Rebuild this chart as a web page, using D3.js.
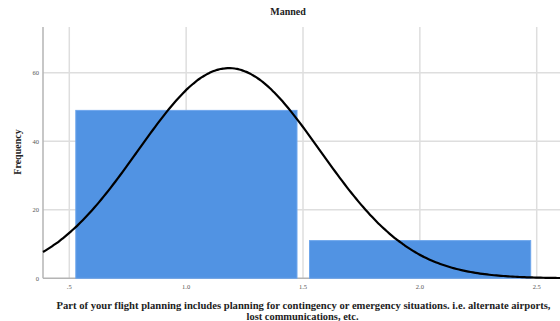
<!DOCTYPE html>
<html>
<head>
<meta charset="utf-8">
<script src="https://cdn.jsdelivr.net/npm/d3@7"></script>
<style>
  html, body { margin: 0; padding: 0; background: #fff; }
  svg { display: block; }
</style>
</head>
<body>
<svg id="chart" width="560" height="321"></svg>
<script>
// ---- data ----
const title = "Manned";
const yLabel = "Frequency";
const xLabelLines = [
  "Part of your flight planning includes planning for contingency or emergency situations. i.e. alternate airports,",
  "lost communications, etc."
];
const binStarts = [0.5, 1.5];
const binEnds = [1.5, 2.5];
const frequencies = [49, 11];
const binValues = [1, 2];
const xTicks = [0.5, 1.0, 1.5, 2.0, 2.5];
const xTickLabels = [".5", "1.0", "1.5", "2.0", "2.5"];
const yTicks = [0, 20, 40, 60];

(function () {
// ---- stats for normal curve ----
const N = d3.sum(frequencies);
const mean = d3.sum(binValues.map((v, i) => v * frequencies[i])) / N;
const variance = d3.sum(binValues.map((v, i) => frequencies[i] * (v - mean) ** 2)) / (N - 1);
const sd = Math.sqrt(variance);
const binWidth = 1;

const svg = d3.select("#chart");
const plotLeft = 43, plotTop = 27, plotBottom = 278.3;
const pxPerUnit = 233.7;
const xMin = 0.5 - (69.3 - plotLeft) / pxPerUnit;
const xMax = 2.62;
const x = d3.scaleLinear().domain([xMin, xMax]).range([plotLeft, plotLeft + (xMax - xMin) * pxPerUnit]);
const y = d3.scaleLinear().domain([0, 60]).range([plotBottom, 72.7]);

const serif = "'Liberation Serif', 'Times New Roman', serif";

// gridlines
const grid = svg.append("g");
grid.selectAll("line.h").data(yTicks.filter(d => d > 0)).join("line")
  .attr("class", "h")
  .attr("x1", plotLeft).attr("x2", 560)
  .attr("y1", d => y(d)).attr("y2", d => y(d))
  .attr("stroke", "#dedede").attr("stroke-width", 1.5);
grid.selectAll("line.v").data(xTicks).join("line")
  .attr("class", "v")
  .attr("x1", d => x(d)).attr("x2", d => x(d))
  .attr("y1", plotTop).attr("y2", plotBottom)
  .attr("stroke", "#dedede").attr("stroke-width", 1.5);

// axis lines
svg.append("line").attr("x1", plotLeft).attr("x2", plotLeft).attr("y1", plotTop).attr("y2", plotBottom)
  .attr("stroke", "#b4b4b4").attr("stroke-width", 1.5);
svg.append("line").attr("x1", plotLeft).attr("x2", 560).attr("y1", plotBottom).attr("y2", plotBottom)
  .attr("stroke", "#b4b4b4").attr("stroke-width", 1.5);

// bars
const inset = 6.5;
svg.append("g").selectAll("rect").data(frequencies).join("rect")
  .attr("x", (d, i) => x(binStarts[i]) + inset)
  .attr("width", (d, i) => x(binEnds[i]) - x(binStarts[i]) - 2 * inset + 0.5)
  .attr("y", d => y(d))
  .attr("height", d => y(0) - y(d))
  .attr("fill", "#5193e3")
  .attr("stroke", "#6ea6ec").attr("stroke-width", 1);

// normal curve
const curveXs = d3.range(xMin, 2.65, 0.01);
const line = d3.line()
  .x(d => x(d))
  .y(d => y(N * binWidth / (sd * Math.sqrt(2 * Math.PI)) * Math.exp(-0.5 * ((d - mean) / sd) ** 2)))
  .curve(d3.curveBasis);
svg.append("path").datum(curveXs).attr("d", line)
  .attr("fill", "none").attr("stroke", "#000").attr("stroke-width", 2.2);

// tick labels
svg.append("g").selectAll("text").data(yTicks).join("text")
  .attr("x", 39).attr("y", d => y(d) + 2.3)
  .attr("text-anchor", "end")
  .attr("font-family", serif).attr("font-size", 6.5).attr("fill", "#555")
  .text(d => d);
svg.append("g").selectAll("text").data(xTicks).join("text")
  .attr("x", d => x(d)).attr("y", 288.5)
  .attr("text-anchor", "middle")
  .attr("font-family", serif).attr("font-size", 6.5).attr("fill", "#555")
  .text((d, i) => xTickLabels[i]);

// title
svg.append("text").attr("x", 288).attr("y", 14.5)
  .attr("text-anchor", "middle")
  .attr("font-family", serif).attr("font-weight", "bold").attr("font-size", 10).attr("fill", "#222")
  .text(title);

// y label
svg.append("text")
  .attr("transform", "translate(21,152) rotate(-90)")
  .attr("text-anchor", "middle")
  .attr("font-family", serif).attr("font-weight", "bold").attr("font-size", 10).attr("fill", "#222")
  .text(yLabel);

// x label
const xl = svg.append("text")
  .attr("font-family", serif).attr("font-weight", "bold").attr("font-size", 10.5).attr("fill", "#222");
xl.append("tspan").attr("x", 303.5).attr("y", 308.8).attr("text-anchor", "middle")
  .attr("textLength", 494).attr("lengthAdjust", "spacingAndGlyphs")
  .text(xLabelLines[0]);
xl.append("tspan").attr("x", 302.5).attr("y", 320).attr("text-anchor", "middle")
  .attr("textLength", 112).attr("lengthAdjust", "spacingAndGlyphs")
  .text(xLabelLines[1]);
})();
</script>
</body>
</html>
